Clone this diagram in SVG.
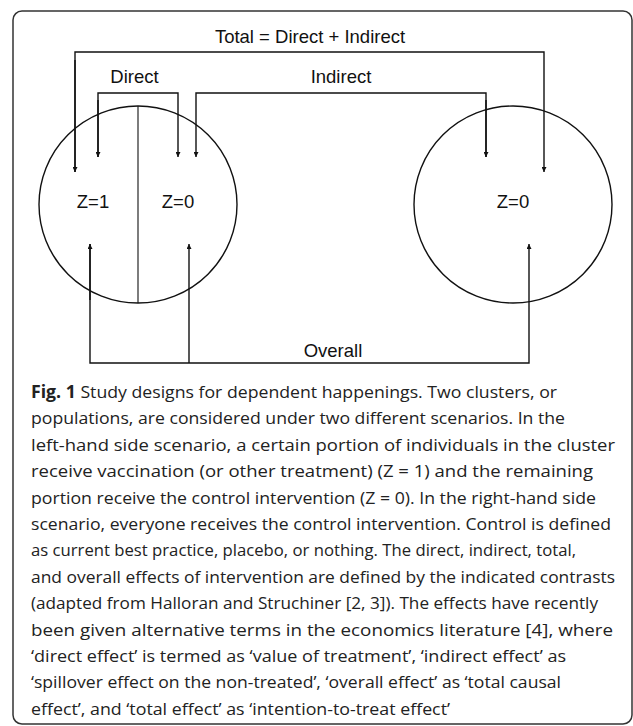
<svg xmlns="http://www.w3.org/2000/svg" width="633" height="726" viewBox="0 0 633 726">
<style>
.lbl{font-family:"Liberation Sans",Arial,sans-serif;font-size:18.5px;fill:#111;text-anchor:middle}
.cap{font-family:"Open Sans","Noto Sans",sans-serif;font-size:17.2px;fill:#222}
.c{fill:none;stroke:#111;stroke-width:1.4}
.e{fill:none;stroke:#111;stroke-width:1.4}
</style>
<defs>
<marker id="ah" viewBox="0 0 8 8" refX="8" refY="4" markerWidth="5" markerHeight="5" markerUnits="userSpaceOnUse" orient="auto"><path d="M0,0L8,4L0,8z" fill="#111"/></marker>
</defs>
<rect x="0" y="0" width="633" height="726" fill="#fff"/>
<rect id="frame" x="13" y="11" width="619" height="713" rx="9" fill="none" stroke="#333" stroke-width="1.5"/>
<g id="left-cluster">
<ellipse class="e" cx="138" cy="204.5" rx="99" ry="98.5"/>
<line x1="138" y1="106" x2="138" y2="303" stroke="#111" stroke-width="1.1"/>
<text class="lbl" x="93" y="208">Z=1</text>
<text class="lbl" x="178" y="208">Z=0</text>
</g>
<g id="right-cluster">
<ellipse class="e" cx="513" cy="204.5" rx="99" ry="98.5"/>
<text class="lbl" x="513" y="208">Z=0</text>
</g>
<g id="connectors">
<polyline class="c" points="75,172 75,52 544,52 544,172" marker-end="url(#ah)"/>
<line class="c" x1="75" y1="60" x2="75" y2="172" marker-end="url(#ah)"/>
<polyline class="c" points="98,157 98,93 178,93 178,157" marker-end="url(#ah)"/>
<line class="c" x1="98" y1="100" x2="98" y2="157" marker-end="url(#ah)"/>
<polyline class="c" points="486,157 486,93 196,93 196,157" marker-end="url(#ah)"/>
<line class="c" x1="486" y1="100" x2="486" y2="157" marker-end="url(#ah)"/>
<polyline class="c" points="90,244 90,363 529,363 529,244" marker-end="url(#ah)"/>
<line class="c" x1="90" y1="300" x2="90" y2="244" marker-end="url(#ah)"/>
<line class="c" x1="189" y1="363" x2="189" y2="244" marker-end="url(#ah)"/>
</g>
<g id="labels">
<text class="lbl" x="310" y="43">Total = Direct + Indirect</text>
<text class="lbl" x="134.5" y="83">Direct</text>
<text class="lbl" x="341" y="83">Indirect</text>
<text class="lbl" x="333" y="357">Overall</text>
</g>
<g id="caption" class="cap">
<text x="31" y="398" textLength="526" lengthAdjust="spacingAndGlyphs"><tspan font-weight="bold">Fig. 1</tspan> Study designs for dependent happenings. Two clusters, or</text>
<text x="31" y="424.4" textLength="534" lengthAdjust="spacingAndGlyphs">populations, are considered under two different scenarios. In the</text>
<text x="31" y="450.8" textLength="584" lengthAdjust="spacingAndGlyphs">left-hand side scenario, a certain portion of individuals in the cluster</text>
<text x="31" y="477.2" textLength="562" lengthAdjust="spacingAndGlyphs">receive vaccination (or other treatment) (Z = 1) and the remaining</text>
<text x="31" y="503.6" textLength="565" lengthAdjust="spacingAndGlyphs">portion receive the control intervention (Z = 0). In the right-hand side</text>
<text x="31" y="530" textLength="580" lengthAdjust="spacingAndGlyphs">scenario, everyone receives the control intervention. Control is defined</text>
<text x="31" y="556.4" textLength="545" lengthAdjust="spacingAndGlyphs">as current best practice, placebo, or nothing. The direct, indirect, total,</text>
<text x="31" y="582.8" textLength="584" lengthAdjust="spacingAndGlyphs">and overall effects of intervention are defined by the indicated contrasts</text>
<text x="31" y="609.2" textLength="567" lengthAdjust="spacingAndGlyphs">(adapted from Halloran and Struchiner [2, 3]). The effects have recently</text>
<text x="31" y="635.6" textLength="582" lengthAdjust="spacingAndGlyphs">been given alternative terms in the economics literature [4], where</text>
<text x="31" y="662" textLength="535" lengthAdjust="spacingAndGlyphs">‘direct effect’ is termed as ‘value of treatment’, ‘indirect effect’ as</text>
<text x="31" y="688.4" textLength="530" lengthAdjust="spacingAndGlyphs">‘spillover effect on the non-treated’, ‘overall effect’ as ‘total causal</text>
<text x="31" y="714.8" textLength="419" lengthAdjust="spacingAndGlyphs">effect’, and ‘total effect’ as ‘intention-to-treat effect’</text>
</g>
</svg>
